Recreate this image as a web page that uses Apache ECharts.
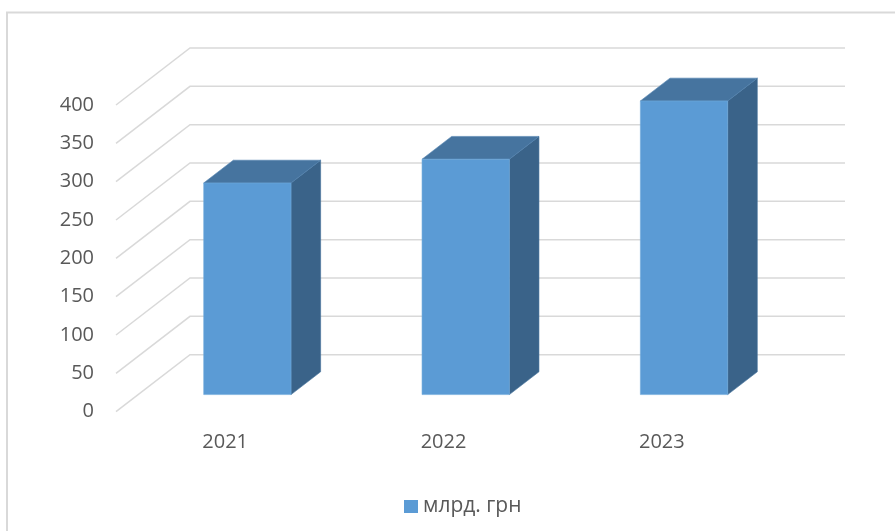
<!DOCTYPE html>
<html>
<head>
<meta charset="utf-8">
<style>
  html, body { margin: 0; padding: 0; background: #ffffff; }
  #chart { width: 895px; height: 531px; }
</style>
<script src="https://cdn.jsdelivr.net/npm/echarts@6/dist/echarts.min.js"></script>
</head>
<body>
<div id="chart"></div>
<script>
// Annual totals, billion UAH
const categories = ['2021', '2022', '2023'];
const values = [276, 307, 383];
const seriesName = 'млрд. грн';
const yTicks = [0, 50, 100, 150, 200, 250, 300, 350, 400];

// Oblique projection of the depth axis (pixels for the full floor depth)
const DEPTH_X = 74;
const DEPTH_Y = -57;
// Bars sit between these fractions of the depth
const BAR_FRONT = 0.3;
const BAR_BACK = 0.7;
const BAR_WIDTH_RATIO = 0.4;

const FONT = '"Open Sans", "Noto Sans", sans-serif';
const TEXT_COLOR = '#595959';
const GRID_COLOR = '#D9D9D9';

function renderGridLine(params, api) {
  const cs = params.coordSys;
  const y = api.coord([0, api.value(1)])[1];
  const left = cs.x;
  const right = cs.x + cs.width;
  return {
    type: 'polyline',
    shape: {
      points: [
        [left, y],
        [left + DEPTH_X, y + DEPTH_Y],
        [right + DEPTH_X, y + DEPTH_Y]
      ]
    },
    style: { stroke: GRID_COLOR, lineWidth: 1.5, fill: null },
    silent: true
  };
}

function renderBar(params, api) {
  const idx = api.value(0);
  const top = api.coord([idx, api.value(1)]);
  const base = api.coord([idx, 0]);
  const band = api.size([1, 0])[0];
  const w = band * BAR_WIDTH_RATIO;
  const fx = BAR_FRONT * DEPTH_X, fy = BAR_FRONT * DEPTH_Y;
  const dx = (BAR_BACK - BAR_FRONT) * DEPTH_X;
  const dy = (BAR_BACK - BAR_FRONT) * DEPTH_Y;
  const x0 = top[0] - w / 2 + fx;
  const x1 = top[0] + w / 2 + fx;
  const yt = top[1] + fy;
  const yb = base[1] + fy;
  return {
    type: 'group',
    children: [
      {
        type: 'polygon',
        shape: { points: [[x1, yt], [x1 + dx, yt + dy], [x1 + dx, yb + dy], [x1, yb]] },
        style: { fill: '#3A6389', stroke: '#41709A', lineWidth: 0.6 }
      },
      {
        type: 'polygon',
        shape: { points: [[x0, yt], [x0 + dx, yt + dy], [x1 + dx, yt + dy], [x1, yt]] },
        style: { fill: '#46749F', stroke: '#5283B0', lineWidth: 0.6 }
      },
      {
        type: 'rect',
        shape: { x: x0, y: yt, width: x1 - x0, height: yb - yt },
        style: { fill: '#5B9BD5', stroke: '#70A9DC', lineWidth: 0.6 }
      }
    ]
  };
}

const chart = echarts.init(document.getElementById('chart'), null, { renderer: 'canvas' });

chart.setOption({
  animation: false,
  backgroundColor: '#ffffff',
  textStyle: { fontFamily: FONT },
  graphic: [
    {
      type: 'polyline',
      shape: { points: [[7, 531], [7, 12.5], [895, 12.5]] },
      style: { stroke: '#D9D9D9', lineWidth: 2, fill: null },
      silent: true
    }
  ],
  grid: { left: 116, right: 124, top: 105, bottom: 119.3 },
  xAxis: {
    type: 'category',
    data: categories,
    axisLine: { show: false },
    axisTick: { show: false },
    splitLine: { show: false },
    axisLabel: {
      color: TEXT_COLOR,
      fontSize: 20,
      fontFamily: FONT,
      lineHeight: 20,
      margin: 21
    }
  },
  yAxis: {
    type: 'value',
    min: 0,
    max: 400,
    interval: 50,
    axisLine: { show: false },
    axisTick: { show: false },
    splitLine: { show: false },
    axisLabel: {
      color: TEXT_COLOR,
      fontSize: 20,
      fontFamily: FONT,
      margin: 22
    }
  },
  legend: {
    data: [{ name: seriesName, icon: 'rect' }],
    left: 399,
    top: 491,
    itemWidth: 14,
    itemHeight: 13,
    textStyle: { color: TEXT_COLOR, fontSize: 21, fontFamily: FONT },
    selectedMode: false
  },
  series: [
    {
      type: 'custom',
      name: 'grid',
      renderItem: renderGridLine,
      data: yTicks.map(v => [0, v]),
      silent: true,
      z: 1
    },
    {
      type: 'custom',
      name: seriesName,
      renderItem: renderBar,
      itemStyle: { color: '#5B9BD5' },
      data: values.map((v, i) => [i, v]),
      z: 2
    }
  ]
});
</script>
</body>
</html>
